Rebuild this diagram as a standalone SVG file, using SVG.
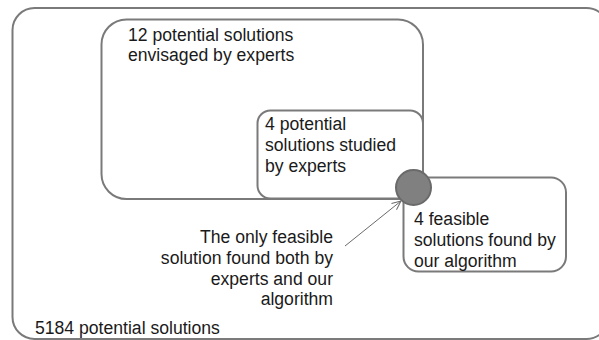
<svg xmlns="http://www.w3.org/2000/svg" width="599" height="340" viewBox="0 0 599 340">
<style>
.box{fill:none;stroke:#7a7a7a;stroke-width:2}
.t{font-family:"Liberation Sans",Arial,sans-serif;font-size:17.6px;fill:#1a1a1a}
.r{text-anchor:end}
</style>
<defs>
<marker id="arr" markerWidth="12" markerHeight="12" refX="10" refY="5" orient="auto" markerUnits="userSpaceOnUse">
<path d="M1,1 L10,5 L1,9" fill="none" stroke="#6a6a6a" stroke-width="1"/>
</marker>
</defs>
<rect width="599" height="340" fill="#ffffff"/>
<g id="all-solutions">
<rect class="box" x="12.5" y="8" width="596" height="331" rx="22"/>
<text class="t" x="35" y="334">5184 potential solutions</text>
</g>
<g id="envisaged">
<rect class="box" x="101.5" y="19.5" width="321.5" height="179.5" rx="25"/>
<text class="t" x="128" y="41">12 potential solutions</text>
<text class="t" x="128" y="61">envisaged by experts</text>
</g>
<g id="studied">
<rect class="box" x="257.5" y="110.5" width="165.5" height="88" rx="13" stroke-width="2.5"/>
<text class="t" x="265" y="130">4 potential</text>
<text class="t" x="265" y="151">solutions studied</text>
<text class="t" x="265" y="172">by experts</text>
</g>
<g id="feasible">
<rect class="box" x="403.5" y="177.5" width="162.5" height="94" rx="15"/>
<text class="t" x="414" y="225">4 feasible</text>
<text class="t" x="414" y="246">solutions found by</text>
<text class="t" x="414" y="267">our algorithm</text>
</g>
<g id="intersection">
<circle cx="413.5" cy="187.5" r="17.5" fill="#808080" stroke="#6a6a6a" stroke-width="2"/>
</g>
<g id="label">
<text class="t r" x="333" y="243">The only feasible</text>
<text class="t r" x="333" y="264">solution found both by</text>
<text class="t r" x="333" y="285">experts and our</text>
<text class="t r" x="333" y="305">algorithm</text>
</g>
<g id="connectors">
<line x1="345" y1="246" x2="401" y2="201" stroke="#6a6a6a" stroke-width="1" marker-end="url(#arr)"/>
</g>
</svg>
